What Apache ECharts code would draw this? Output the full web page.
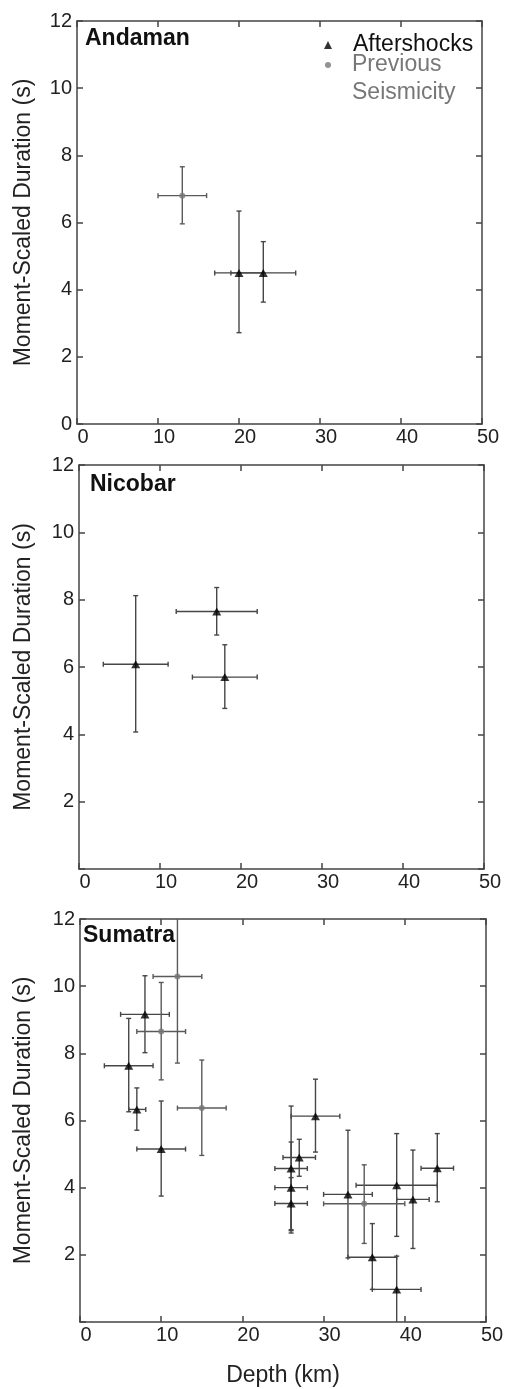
<!DOCTYPE html>
<html>
<head>
<meta charset="utf-8">
<script src="https://cdn.jsdelivr.net/npm/echarts@6/dist/echarts.min.js"></script>
<style>
html, body { margin: 0; padding: 0; background: #fff; }
#chart { width: 506px; height: 1389px; }
</style>
</head>
<body>
<div id="chart"></div>
<script>
// each row: [depth, duration, depthLo, depthHi, durationLo, durationHi]
const andamanAftershocks = [
    [20, 4.5, 17, 23, 2.72, 6.34],
    [23, 4.5, 19, 27, 3.63, 5.43]
];
const andamanPrevious = [
    [13, 6.8, 10, 16, 5.96, 7.66]
];
const nicobarAftershocks = [
    [7, 6.08, 3, 11, 4.07, 8.12],
    [17, 7.65, 12, 22, 6.95, 8.36],
    [18, 5.7, 14, 22, 4.77, 6.66]
];
const nicobarPrevious = [];
const sumatraAftershocks = [
    [6, 7.63, 3, 9, 6.26, 9.04],
    [8, 9.16, 5, 11, 8.02, 10.31],
    [7, 6.33, 6, 8.1, 5.71, 6.97],
    [10, 5.15, 7, 13, 3.75, 6.58],
    [29, 6.13, 26, 32, 5.06, 7.23],
    [26, 4.57, 24, 28, 2.72, 6.43],
    [26, 4.0, 24, 28, 2.65, 5.36],
    [26, 3.53, 24, 28, 2.75, 4.3],
    [27, 4.9, 25, 29, 4.34, 5.44],
    [33, 3.8, 30, 36, 1.91, 5.71],
    [39, 4.07, 34, 44, 2.55, 5.61],
    [41, 3.65, 39, 43, 2.19, 5.12],
    [44, 4.58, 42, 46, 3.58, 5.61],
    [36, 1.93, 33, 39, 0.97, 2.93],
    [39, 0.97, 36, 42, -0.05, 1.96]
];
const sumatraPrevious = [
    [10, 8.65, 7, 13, 7.21, 10.11],
    [12, 10.29, 9, 15, 7.71, 12.9],
    [15, 6.37, 12, 18, 4.96, 7.8],
    [35, 3.52, 30, 40, 2.34, 4.68]
];
const regions = ['Andaman', 'Nicobar', 'Sumatra'];
const depthTicks = [0, 10, 20, 30, 40, 50];
const durationTicks = [0, 2, 4, 6, 8, 10, 12];

const FONT = '"Liberation Sans", Arial, Helvetica, sans-serif';
const FRAME = '#444';
const CAP = 2.5;

const grids = [
    { left: 77, top: 21, width: 405, height: 403 },
    { left: 79, top: 465, width: 405, height: 404 },
    { left: 80, top: 919, width: 406, height: 403 }
];
const titlePos = [[85, 27], [90, 473], [83, 924]];
const nameGaps = [42, 44, 45];
const aftershocks = [andamanAftershocks, nicobarAftershocks, sumatraAftershocks];
const previous = [andamanPrevious, nicobarPrevious, sumatraPrevious];

const errorBars = (color) => (params, api) => {
    const x = api.value(0), y = api.value(1);
    const left = api.coord([api.value(2), y]);
    const right = api.coord([api.value(3), y]);
    const low = api.coord([x, api.value(4)]);
    const high = api.coord([x, api.value(5)]);
    const style = { stroke: color, lineWidth: 1.4, fill: null };
    const seg = (x1, y1, x2, y2) => ({ type: 'line', shape: { x1, y1, x2, y2 }, style });
    return {
        type: 'group',
        children: [
            seg(left[0], left[1], right[0], right[1]),
            seg(left[0], left[1] - CAP, left[0], left[1] + CAP),
            seg(right[0], right[1] - CAP, right[0], right[1] + CAP),
            seg(low[0], low[1], high[0], high[1]),
            seg(low[0] - CAP, low[1], low[0] + CAP, low[1]),
            seg(high[0] - CAP, high[1], high[0] + CAP, high[1])
        ]
    };
};

const lineStyle = { color: FRAME, width: 1.5 };
const xAxes = [], yAxes = [], series = [];
grids.forEach((g, i) => {
    const last = i === grids.length - 1;
    xAxes.push({
        gridIndex: i, type: 'value', position: 'bottom',
        min: depthTicks[0], max: depthTicks[depthTicks.length - 1],
        interval: depthTicks[1] - depthTicks[0],
        name: last ? 'Depth (km)' : '', nameLocation: 'middle', nameGap: 42,
        nameTextStyle: { fontFamily: FONT, fontSize: 23, color: '#222' },
        axisLine: { onZero: false, lineStyle },
        axisTick: { inside: true, length: 6, lineStyle },
        axisLabel: { fontFamily: FONT, fontSize: 20, color: '#222', margin: 3, padding: [0, 0, 0, 12] },
        splitLine: { show: false }
    });
    xAxes.push({
        gridIndex: i, type: 'value', position: 'top',
        min: depthTicks[0], max: depthTicks[depthTicks.length - 1],
        interval: depthTicks[1] - depthTicks[0],
        axisLine: { onZero: false, lineStyle },
        axisTick: { inside: true, length: 6, lineStyle },
        axisLabel: { show: false },
        splitLine: { show: false }
    });
    yAxes.push({
        gridIndex: i, type: 'value', position: 'left',
        min: durationTicks[0], max: durationTicks[durationTicks.length - 1],
        interval: durationTicks[1] - durationTicks[0],
        name: 'Moment-Scaled Duration (s)', nameLocation: 'middle', nameRotate: 90,
        nameGap: nameGaps[i],
        nameTextStyle: { fontFamily: FONT, fontSize: 23, color: '#222' },
        axisLine: { onZero: false, lineStyle },
        axisTick: { inside: true, length: 6, lineStyle },
        axisLabel: {
            fontFamily: FONT, fontSize: 20, color: '#222', margin: 5,
            formatter: (v) => (i > 0 && v === 0 ? '' : String(v))
        },
        splitLine: { show: false }
    });
    yAxes.push({
        gridIndex: i, type: 'value', position: 'right',
        min: durationTicks[0], max: durationTicks[durationTicks.length - 1],
        interval: durationTicks[1] - durationTicks[0],
        axisLine: { onZero: false, lineStyle },
        axisTick: { inside: true, length: 6, lineStyle },
        axisLabel: { show: false },
        splitLine: { show: false }
    });

    series.push({
        type: 'custom', name: 'err-a-' + i, xAxisIndex: 2 * i, yAxisIndex: 2 * i,
        clip: true, renderItem: errorBars('#464646'), data: aftershocks[i], z: 2
    });
    series.push({
        type: 'custom', name: 'err-p-' + i, xAxisIndex: 2 * i, yAxisIndex: 2 * i,
        clip: true, renderItem: errorBars('#5a5a5a'), data: previous[i], z: 2
    });
    series.push({
        type: 'scatter', name: 'Aftershocks', xAxisIndex: 2 * i, yAxisIndex: 2 * i,
        symbol: 'triangle', symbolSize: [9, 8], itemStyle: { color: '#000' },
        data: aftershocks[i].map(d => [d[0], d[1]]), z: 3
    });
    series.push({
        type: 'scatter', name: 'Previous Seismicity', xAxisIndex: 2 * i, yAxisIndex: 2 * i,
        symbol: 'circle', symbolSize: 6, itemStyle: { color: '#777' },
        data: previous[i].map(d => [d[0], d[1]]), z: 3
    });
});

const chart = echarts.init(document.getElementById('chart'), null, { renderer: 'canvas' });
chart.setOption({
    animation: false,
    backgroundColor: '#fff',
    title: regions.map((r, i) => ({
        text: r, left: titlePos[i][0], top: titlePos[i][1], padding: 0,
        textStyle: { fontFamily: FONT, fontSize: 23, fontWeight: 'bold', color: '#111' }
    })),
    legend: [{
        data: [{ name: 'Aftershocks', icon: 'triangle' }],
        orient: 'vertical', left: 324, top: 31, padding: 0,
        itemWidth: 8, itemHeight: 8,
        itemStyle: { color: '#000' },
        textStyle: { fontFamily: FONT, fontSize: 23, lineHeight: 28, color: '#111', padding: [0, 0, 0, 16] }
    }, {
        // a blank first line keeps the icon level with "Previous"
        data: [{ name: 'Previous Seismicity', icon: 'circle' }],
        orient: 'vertical', left: 325, top: 23, padding: 0,
        itemWidth: 6, itemHeight: 6,
        itemStyle: { color: '#777' },
        formatter: (n) => ' \n' + n.replace(' ', '\n'),
        textStyle: { fontFamily: FONT, fontSize: 23, lineHeight: 28, color: '#777', padding: [0, 0, 0, 16] }
    }],
    grid: grids.map(g => Object.assign({ outerBoundsMode: 'none', containLabel: false }, g)),
    xAxis: xAxes,
    yAxis: yAxes,
    series
});
</script>
</body>
</html>
